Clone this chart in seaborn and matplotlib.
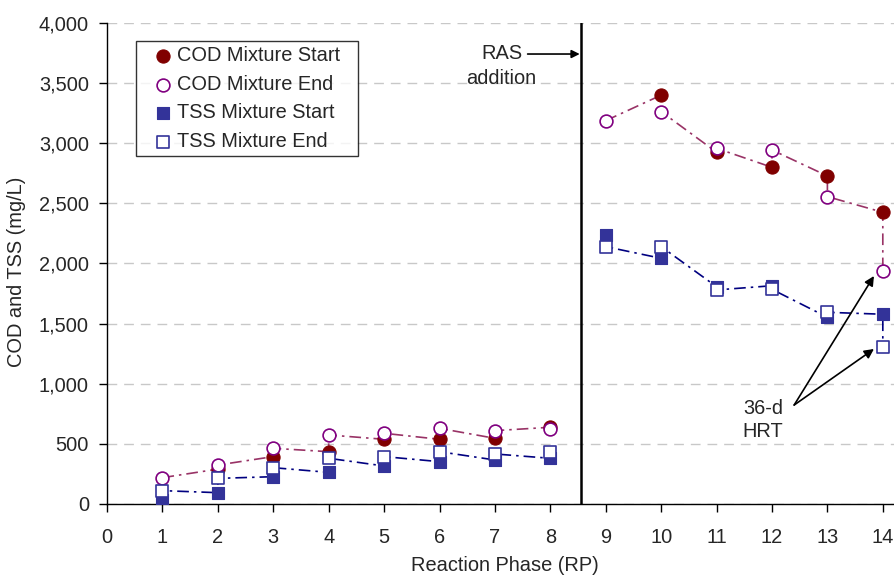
import numpy as np
import pandas as pd
import matplotlib
matplotlib.use('Agg')
import matplotlib.pyplot as plt
import seaborn as sns
from matplotlib.ticker import FuncFormatter

# values (mg/L per reaction phase)
rp = list(range(1, 15))
cod_start = [np.nan, 290, 394, 435, 538, 538, 546, 638, np.nan, 3400, 2925, 2800, 2728, 2426]
cod_end = [219, 324, 463, 574, 588, 629, 610, 621, 3188, 3263, 2958, 2944, 2556, 1940]
tss_start = [33, 94, 227, 263, 316, 352, 366, 380, 2237, 2043, 1807, 1815, 1553, 1578]
tss_end = [111, 213, 302, 380, 394, 435, 416, 430, 2140, 2140, 1780, 1785, 1594, 1303]
segment = [1] * 8 + [2] * 6  # RAS added between RP 8 and 9

sns.set_style('white')
plt.rcParams['font.family'] = ['Liberation Sans', 'DejaVu Sans']
FS = 14.4

df = pd.DataFrame({'rp': rp, 'cod_start': cod_start, 'cod_end': cod_end,
                   'tss_start': tss_start, 'tss_end': tss_end, 'seg': segment})


def time_order(df, start_col, end_col):
    # start -> end within a phase, then end -> next start
    rows = []
    for _, r in df.iterrows():
        for col in (start_col, end_col):
            if not np.isnan(r[col]):
                rows.append({'rp': r['rp'], 'val': r[col], 'seg': r['seg']})
    return pd.DataFrame(rows)


cod_path = time_order(df, 'cod_start', 'cod_end')
tss_path = time_order(df, 'tss_start', 'tss_end')

fig = plt.figure(figsize=(8.95, 5.75), dpi=100)
ax = fig.add_axes([0.1196, 0.1235, 0.8804, 0.8365])

sns.lineplot(data=cod_path, x='rp', y='val', units='seg', estimator=None, sort=False,
             color='#993366', lw=1.2, ax=ax, legend=False)
sns.lineplot(data=tss_path, x='rp', y='val', units='seg', estimator=None, sort=False,
             color='#000080', lw=1.2, ax=ax, legend=False)
for line in ax.lines:
    line.set_dashes([7, 3, 1.5, 3])

sns.scatterplot(data=df, x='rp', y='cod_start', marker='o', s=90, color='#800000',
                edgecolor='#800000', linewidth=0.8, label='COD Mixture Start', ax=ax, zorder=3)
sns.scatterplot(data=df, x='rp', y='cod_end', marker='o', s=85, facecolor='white',
                edgecolor='#800080', linewidth=1.2, label='COD Mixture End', ax=ax, zorder=4)
sns.scatterplot(data=df, x='rp', y='tss_start', marker='s', s=75, color='#333399',
                edgecolor='#333399', linewidth=0.8, label='TSS Mixture Start', ax=ax, zorder=3)
sns.scatterplot(data=df, x='rp', y='tss_end', marker='s', s=72, facecolor='white',
                edgecolor='#333399', linewidth=1.2, label='TSS Mixture End', ax=ax, zorder=4)

# RAS addition marker
ax.axvline(8.55, color='black', lw=1.8, zorder=2)
ax.text(7.12, 3748, 'RAS', ha='center', va='center', fontsize=FS)
ax.text(7.12, 3540, 'addition', ha='center', va='center', fontsize=FS)
ax.annotate('', xy=(8.53, 3742), xytext=(7.59, 3742),
            arrowprops=dict(arrowstyle='-|>', color='black', lw=1.2, mutation_scale=12,
                            shrinkA=0, shrinkB=0))
# 36-d HRT arrows
for tip in [(13.84, 1896), (13.84, 1289)]:
    ax.annotate('', xy=tip, xytext=(12.40, 823),
                arrowprops=dict(arrowstyle='-|>', color='black', lw=1.2, mutation_scale=14,
                                shrinkA=0, shrinkB=0))
ax.text(11.84, 798, '36-d', ha='center', va='center', fontsize=FS)
ax.text(11.84, 599, 'HRT', ha='center', va='center', fontsize=FS)

ax.set_xlim(0, 14.22)
ax.set_ylim(0, 4000)
ax.set_xticks(range(0, 15))
ax.set_yticks(range(0, 4001, 500))
ax.yaxis.set_major_formatter(FuncFormatter(lambda v, p: f'{int(v):,}'))
ax.yaxis.grid(True, color='#c8c8c8', ls=(0, (7, 5)), lw=1)
ax.set_axisbelow(True)
ax.tick_params(direction='out', length=6, width=1, color='black', labelsize=FS, left=True, bottom=True)
ax.tick_params(axis='y', pad=7)
ax.tick_params(axis='x', pad=11)

for s in ['top', 'right']:
    ax.spines[s].set_visible(False)
for s in ['left', 'bottom']:
    ax.spines[s].set_color('black')
    ax.spines[s].set_linewidth(1)

ax.set_xlabel('Reaction Phase (RP)', fontsize=FS, labelpad=3)
ax.xaxis.set_label_coords(0.505, -0.148)
ax.xaxis.label.set_va('bottom')
ax.set_ylabel('COD and TSS (mg/L)', fontsize=FS)
ax.yaxis.set_label_coords(-0.103, 0.482)

leg = ax.legend(loc='upper left', bbox_to_anchor=(0.0365, 0.5, 0.2817, 0.462), mode='expand',
                frameon=True, fancybox=False, edgecolor='black', fontsize=FS,
                handletextpad=-0.4, borderpad=0.25, labelspacing=0.48, handlelength=2.2,
                markerscale=1.0, borderaxespad=0)
leg.get_frame().set_linewidth(1)

fig.savefig('out.png', dpi=100)
